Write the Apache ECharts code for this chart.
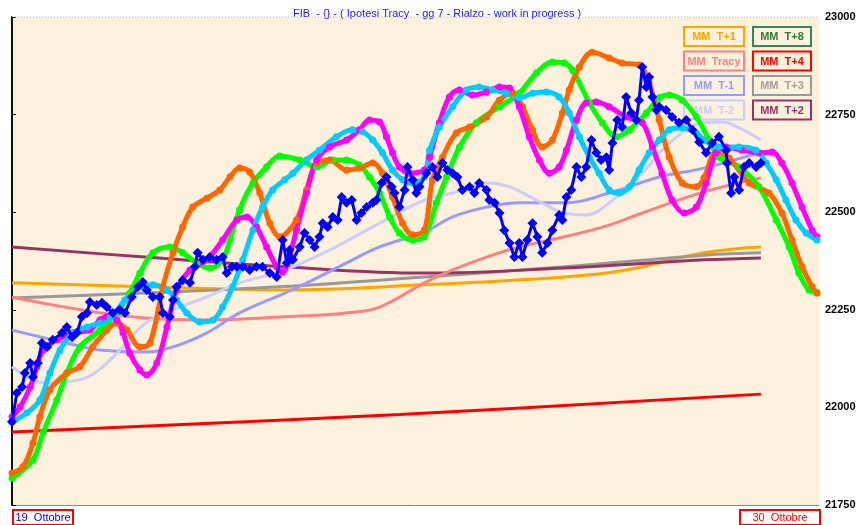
<!DOCTYPE html>
<html><head><meta charset="utf-8">
<script src="https://cdn.jsdelivr.net/npm/echarts@6/dist/echarts.min.js"></script>
<style>html,body{margin:0;padding:0;background:#fff}#c{width:861px;height:525px}</style>
</head><body><div id="c"></div>
<script>
// y-axis ticks
const yTicks = [21750, 22000, 22250, 22500, 22750, 23000];
const titleText = 'FIB  - {} - ( Ipotesi Tracy  - gg 7 - Rialzo - work in progress )';
const dateStart = '19  Ottobre';
const dateEnd = '30  Ottobre';
const legendNames = ['MM  T+1','MM  T+8','MM  Tracy','MM  T+4','MM  T-1','MM  T+3','MM  T-2','MM  T+2'];

// price (x = step index 0..200)
const price = [[0,21963],[1.2,22037],[2.5,22052],[3.2,22088],[4.5,22114],[5.2,22078],[6.4,22114],[7.4,22165],[8.7,22155],[10.1,22173],[12.4,22191],[13.6,22206],[14.9,22180],[16.1,22191],[17.3,22232],[18.6,22242],[19.3,22270],[21,22262],[22.3,22268],[23.5,22257],[25,22242],[26.7,22250],[28,22242],[29.7,22283],[31.2,22309],[32.4,22321],[33.4,22301],[34.9,22283],[36.6,22283],[37.4,22242],[39.1,22232],[39.9,22275],[40.8,22309],[42.3,22326],[44.1,22319],[45.3,22360],[46,22396],[47.3,22378],[49,22385],[50.7,22378],[52.2,22385],[53.2,22344],[54.5,22360],[55.7,22360],[57.2,22360],[58.9,22352],[60.6,22360],[62.1,22360],[63.9,22344],[65.6,22334],[67.1,22429],[68.1,22370],[68.8,22403],[69.6,22378],[71.3,22411],[72.5,22447],[73.8,22429],[75,22411],[76.2,22437],[77,22472],[78.2,22462],[79.5,22488],[80.7,22480],[81.7,22539],[82.9,22524],[84.2,22531],[85.4,22480],[86.6,22498],[87.9,22513],[89.4,22524],[90.3,22531],[91.6,22575],[92.8,22590],[94.1,22565],[94.8,22549],[96,22513],[97.3,22557],[98,22616],[99.3,22583],[100.2,22549],[101,22565],[102.7,22600],[104.2,22616],[105.4,22590],[106.7,22626],[107.9,22608],[109.2,22600],[110.4,22590],[111.6,22557],[113.4,22565],[114.6,22549],[115.8,22575],[117.6,22557],[118.3,22531],[119.6,22524],[120.8,22498],[122,22454],[123.3,22421],[124.5,22385],[125.7,22421],[126.5,22385],[127.7,22429],[129,22472],[130.2,22437],[131.4,22396],[132.7,22421],[133.9,22454],[135.6,22493],[136.4,22480],[137.4,22539],[138.6,22557],[139.9,22616],[141.1,22590],[142.3,22616],[143.6,22685],[144.8,22652],[146,22634],[147.3,22641],[148,22608],[148.8,22677],[150,22736],[151.2,22718],[152.2,22795],[153.5,22754],[154.7,22736],[155.4,22787],[156.2,22872],[157.2,22821],[157.9,22846],[158.7,22795],[159.7,22762],[160.4,22770],[162.1,22762],[163.6,22744],[165.3,22729],[167.1,22736],[168.6,22711],[170.3,22680],[172,22652],[173.5,22677],[175.2,22693],[177,22659],[177.2,22626],[178.2,22549],[179,22590],[180.2,22557],[181.4,22616],[182.7,22626],[184.4,22616],[185.6,22626]];

const oscGreen = [[0,21819],[5.2,21866],[7.7,21935],[11.1,22019],[13.6,22088],[16.8,22155],[21.8,22198],[26,22242],[29.2,22293],[31.7,22344],[34.9,22396],[39.1,22411],[42.3,22396],[45.8,22370],[49,22357],[52.2,22378],[54,22429],[56.4,22506],[59.7,22575],[63.1,22616],[66.3,22644],[71.3,22634],[75.5,22616],[79.5,22634],[82.9,22634],[86.1,22621],[88.6,22590],[91.1,22549],[93.6,22488],[96,22447],[99.3,22429],[102.2,22437],[105.2,22524],[107.7,22590],[110.9,22667],[115.1,22729],[120.8,22770],[125.7,22805],[130,22857],[133.9,22885],[136.9,22882],[138.9,22864],[143.1,22780],[146.3,22729],[149.8,22693],[153,22711],[157.2,22754],[160.4,22793],[162.9,22800],[166.1,22787],[169.6,22744],[172.8,22685],[175.2,22641],[180.2,22616],[185.1,22565],[189.4,22480],[192.6,22411],[195,22344],[197.5,22301],[199.5,22293]];

const oscOrange = [[0,21832],[2.7,21848],[5.2,21909],[6.9,21976],[9.4,22045],[13.6,22088],[16.8,22104],[20,22155],[23.5,22198],[26,22216],[28.5,22198],[31.7,22155],[34.2,22165],[37.4,22309],[39.9,22396],[42.3,22462],[44.8,22513],[48.3,22536],[51.5,22557],[54,22590],[56.4,22613],[58.9,22603],[61.4,22549],[63.9,22472],[66.3,22437],[70.5,22480],[73,22557],[75.5,22626],[78.7,22634],[82.9,22608],[86.1,22613],[89.4,22626],[91.8,22600],[94.3,22539],[96.8,22472],[99.3,22442],[102.2,22454],[104.2,22583],[106.7,22641],[110.1,22703],[113.4,22718],[117.6,22744],[120.8,22787],[124,22805],[126.5,22770],[129,22711],[131.4,22667],[133.9,22685],[136.4,22754],[138.1,22813],[140.6,22872],[143.8,22910],[148,22895],[151.2,22882],[155.4,22877],[157.9,22831],[160.4,22736],[162.9,22641],[166.1,22575],[169.6,22565],[171.5,22588],[174.5,22654],[177.7,22639],[182.7,22575],[187.6,22549],[190.8,22498],[193.3,22429],[195.8,22360],[198.3,22309],[199.5,22293]];

const oscMagenta = [[0,21976],[2,22001],[4.5,22052],[6.2,22104],[7.7,22147],[11.1,22173],[15.1,22191],[19.3,22198],[21.8,22224],[23.5,22232],[26,22224],[27.5,22191],[29.2,22139],[31.7,22096],[33.4,22083],[35.9,22114],[38.4,22206],[40.8,22301],[44.1,22352],[48.3,22378],[52.2,22429],[55.7,22480],[58.2,22488],[60.6,22462],[63.1,22411],[65.6,22360],[67.1,22347],[68.8,22390],[70.5,22454],[73,22549],[75.5,22634],[78.7,22667],[82.9,22685],[86.1,22711],[88.6,22736],[91.1,22731],[92.8,22693],[94.3,22652],[96,22616],[98.5,22600],[102.2,22608],[103.5,22641],[105.9,22729],[108.4,22795],[110.9,22813],[114.1,22800],[117.6,22808],[120.8,22821],[123.3,22818],[125.7,22770],[128.2,22693],[130.7,22634],[133.2,22600],[135.6,22616],[137.4,22659],[139.9,22736],[142.3,22780],[144.8,22782],[148,22770],[152.2,22744],[156.2,22729],[158.7,22667],[161.1,22600],[163.6,22531],[166.6,22498],[169.6,22513],[172,22575],[174.5,22652],[177,22667],[180.9,22659],[185.1,22652],[188.4,22654],[190.8,22626],[193.3,22575],[195.8,22513],[198.3,22454],[199.5,22437]];

const oscCyan = [[0,21963],[3.7,21986],[6.9,22019],[9.4,22088],[11.9,22147],[15.1,22191],[18.6,22206],[21.8,22216],[24.3,22229],[28,22275],[31.7,22309],[34.9,22314],[38.4,22301],[40.8,22275],[43.3,22242],[46.5,22219],[49.8,22224],[52.2,22257],[54.7,22309],[57.2,22378],[59.7,22454],[62.1,22513],[64.6,22557],[67.6,22583],[69.6,22600],[73,22634],[76.2,22659],[80.4,22693],[84.4,22711],[86.9,22706],[89.4,22685],[91.8,22652],[94.3,22608],[96.8,22583],[99.3,22575],[102.2,22590],[103.5,22659],[105.9,22718],[109.2,22770],[112.6,22813],[115.8,22821],[119.1,22813],[122.5,22805],[125.7,22793],[129,22805],[132.4,22808],[135.6,22795],[138.1,22754],[140.6,22693],[143.1,22641],[145.5,22600],[148,22557],[150.5,22549],[153,22565],[155.4,22608],[157.9,22652],[160.4,22685],[162.9,22711],[166.1,22716],[169.6,22703],[171.5,22685],[175.2,22667],[180.2,22667],[184.4,22659],[186.9,22626],[189.4,22583],[191.8,22531],[194.3,22480],[196.8,22447],[199.5,22429]];

const mmT4 = [[0,21937],[96,21982],[185.6,22034]];
const mmT1 = [[0,22319],[32.9,22309],[66.3,22301],[102.2,22314],[136.9,22334],[152.2,22352],[171.5,22396],[185.6,22411]];
const mmT3 = [[0,22280],[32.9,22293],[66.3,22309],[102.2,22334],[136.9,22360],[171.5,22390],[185.6,22396]];
const mmT2 = [[0,22411],[32.9,22385],[67.6,22360],[102.2,22344],[136.9,22357],[171.5,22378],[185.6,22383]];
const mmTracy = [[0,22283],[32.9,22229],[48.3,22224],[67.6,22232],[82.9,22242],[91.1,22257],[102.2,22319],[109.2,22352],[117.6,22385],[125.7,22411],[136.9,22437],[148,22467],[156.2,22498],[171.5,22552],[185.6,22588]];
const mmTm1 = [[0,22198],[13.6,22165],[21.8,22147],[32.9,22142],[39.9,22155],[48.3,22191],[56.4,22242],[67.6,22293],[74.5,22326],[82.9,22370],[91.1,22411],[102.2,22449],[109.2,22488],[117.6,22513],[125.7,22524],[136.9,22524],[148,22549],[160.4,22590],[171.5,22613],[185.6,22654]];
const mmTm2 = [[0,22104],[5.2,22070],[9.4,22063],[17.6,22073],[21.8,22098],[26,22139],[32.9,22214],[39.9,22250],[48.3,22283],[56.4,22319],[67.1,22350],[78.7,22403],[91.1,22472],[102.2,22531],[109.2,22549],[117.6,22575],[123.3,22565],[130,22531],[136.9,22498],[142.3,22493],[148,22524],[156.2,22600],[162.9,22677],[171.5,22729],[176,22731],[180.2,22716],[185.6,22685]];

const chart = echarts.init(document.getElementById('c'), null, {renderer:'canvas'});
const FONT = '"Liberation Sans", Arial, sans-serif';

function mm(name, data, color, w) {
  return {name, type:'line', data, smooth:0.4, showSymbol:false, lineStyle:{color, width:w||3}, itemStyle:{color}, z:2, silent:true, animation:false};
}
function osc(name, data, color) {
  return {name, type:'line', data, smooth:0.35, symbol:'circle', symbolSize:7, showSymbol:true,
    lineStyle:{color, width:5}, itemStyle:{color}, z:3, silent:true, animation:false};
}

const legendColors = ['#FFA500','#2E8B57','#FF8080','#FF0000','#9999FF','#999999','#CCCCFF','#993366'];
const legendText = ['#FFA500','#2E7D32','#FF8080','#FF0000','#9999FF','#A0A0A0','#CCCCFF','#993366'];
const legendGraphics = legendNames.map((n, k) => {
  const col = k % 2, row = Math.floor(k / 2);
  const x = col === 0 ? 683 : 752, y = 26 + row * 24.5;
  return {type:'group', left:x, top:y, children:[
    {type:'rect', shape:{x:0, y:0, width:col===0?60:58, height:19}, style:{fill:'rgba(0,0,0,0)', stroke:legendColors[k], lineWidth:2}},
    {type:'text', x:(col===0?30:29), y:10, style:{text:n, fill:legendText[k], font:'bold 11px ' + FONT, textAlign:'center', textVerticalAlign:'middle'}}
  ]};
});

chart.setOption({
  backgroundColor:'#ffffff',
  animation:false,
  title:{text:titleText, left:288, top:3, textStyle:{color:'#2020F0', fontSize:11, fontWeight:'normal', fontFamily:FONT}},
  grid:{left:12, right:42, top:17, bottom:20, show:true, backgroundColor:'#FCF1DC', borderWidth:0},
  xAxis:{type:'value', min:0, max:200, show:true, axisLabel:{show:false}, axisTick:{show:false}, splitLine:{show:false},
    axisLine:{show:true, lineStyle:{color:'#888888', width:1}}},
  yAxis:[{type:'value', position:'right', min:21750, max:23000, interval:250,
    axisLine:{show:true, lineStyle:{color:'#000', width:1.5}},
    axisTick:{show:true, inside:false, length:4, lineStyle:{color:'#000'}},
    axisLabel:{color:'#000', fontSize:11, fontWeight:'bold', fontFamily:FONT, margin:6, formatter:v=>String(v)},
    splitLine:{show:false}},
    {type:'value', position:'left', min:21750, max:23000, interval:250, axisLine:{show:true, lineStyle:{color:'#000', width:1.5}}, axisTick:{show:false}, axisLabel:{show:false}, splitLine:{show:false}}],
  series:[
    mm('MM T+4', mmT4, '#FF0000', 3),
    mm('MM T+1', mmT1, '#FFA500', 3),
    mm('MM T+3', mmT3, '#999999', 3),
    mm('MM T+2', mmT2, '#993366', 3),
    mm('MM Tracy', mmTracy, '#FF8080', 3),
    mm('MM T-1', mmTm1, '#9999FF', 3),
    mm('MM T-2', mmTm2, '#CCCCFF', 3),
    osc('T+8', oscGreen, '#00FF00'),
    osc('Orange', oscOrange, '#FF6600'),
    osc('Magenta', oscMagenta, '#FF00FF'),
    osc('Cyan', oscCyan, '#00CCFF'),
    {name:'FIB', type:'line', data:price, symbol:'diamond', symbolSize:10, showSymbol:true,
      lineStyle:{color:'#0000FF', width:3}, itemStyle:{color:'#0000FF'}, z:5, silent:true, animation:false}
  ],
  graphic: legendGraphics.concat([
    {type:'line', shape:{x1:12, y1:17, x2:819, y2:17}, style:{stroke:'#C8B8A0', lineWidth:1, lineDash:[1,2]}, z:10},
    {type:'group', left:12, top:509, children:[
      {type:'rect', shape:{x:0, y:0, width:60, height:15}, style:{fill:'#fff', stroke:'#FF0000', lineWidth:2}},
      {type:'text', x:30, y:8, style:{text:dateStart, fill:'#0000FF', font:'11px ' + FONT, textAlign:'center', textVerticalAlign:'middle'}}]},
    {type:'group', left:739, top:509, children:[
      {type:'rect', shape:{x:0, y:0, width:80, height:15}, style:{fill:'#fff', stroke:'#FF0000', lineWidth:2}},
      {type:'text', x:40, y:8, style:{text:dateEnd, fill:'#FF0000', font:'11px ' + FONT, textAlign:'center', textVerticalAlign:'middle'}}]}
  ])
});
</script></body></html>
